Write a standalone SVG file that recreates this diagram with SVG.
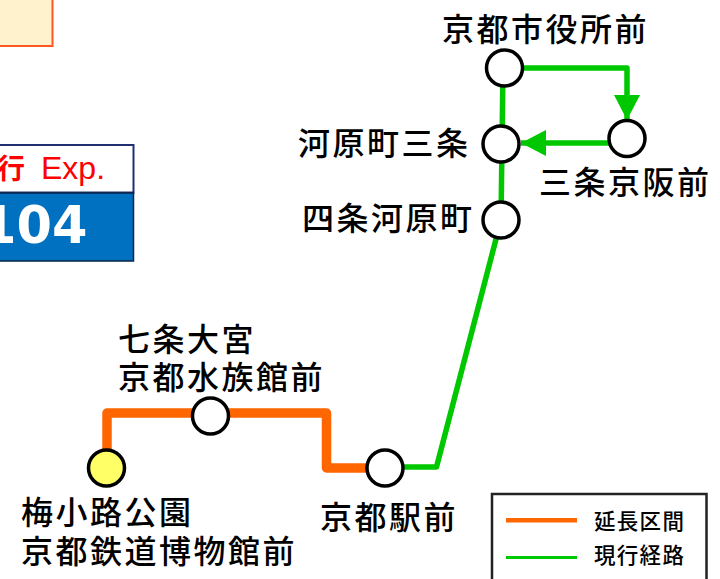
<svg xmlns="http://www.w3.org/2000/svg" width="720" height="579" viewBox="0 0 720 579">
<style>
text{font-family:"Noto Sans CJK JP","Liberation Sans",sans-serif;fill:#000}
.l{font-size:32px;letter-spacing:2.500px;font-weight:500}
.g{font-size:21.500px;letter-spacing:1.300px;font-weight:500}
.st{fill:#fff;stroke:#000;stroke-width:3.500}
.gr{fill:none;stroke:#00c800;stroke-width:5.500;stroke-linejoin:round}
.or{fill:none;stroke:#ff6600;stroke-width:9.500;stroke-linejoin:round}
</style>
<defs>
<marker id="ah" markerUnits="userSpaceOnUse" markerWidth="26" markerHeight="26" refX="25" refY="13" orient="auto"><path d="M0 0L25 13L0 26Z" fill="#00c800"/></marker>
</defs>
<g id="note-box"><rect x="-10" y="-10" width="62.500" height="56" fill="#fff2cc" stroke="#ff5722" stroke-width="2"/></g>
<g id="route-badge">
<rect x="-10" y="145" width="143.500" height="47.500" fill="#fff" stroke="#1f3070" stroke-width="2"/>
<rect x="-10" y="193" width="143.500" height="68" fill="#0070c0" stroke="#0b2545" stroke-width="1.500"/>
<text x="-3" y="179" font-size="28" font-weight="700" style="fill:#f00">行</text>
<text x="41" y="179" style="font-family:'Liberation Sans',sans-serif;fill:#f00;font-size:32px">Exp.</text>
<text x="-19" y="243" style="font-family:'DejaVu Sans',sans-serif;font-weight:700;font-size:51px;fill:#fff">104</text>
</g>
<g id="connectors">
<path class="gr" d="M505 68L627 68L627 120" marker-end="url(#ah)"/>
<path class="gr" d="M627 143L521 143" marker-end="url(#ah)"/>
<path class="gr" d="M503 68L501 220L436.500 467L385 467"/>
<path class="or" d="M107 468L107 413L326.500 413L326.500 468L385 468"/>
</g>
<g id="st-shiyakusho"><circle class="st" cx="504.500" cy="68" r="18"/><text class="l" x="442" y="41">京都市役所前</text></g>
<g id="st-kawaramachi-sanjo"><circle class="st" cx="501" cy="144" r="18"/><text class="l" x="298" y="155">河原町三条</text></g>
<g id="st-sanjo-keihan"><circle class="st" cx="627" cy="138.500" r="18"/><text class="l" x="539" y="194">三条京阪前</text></g>
<g id="st-shijo"><circle class="st" cx="501" cy="220" r="18"/><text class="l" x="302" y="230">四条河原町</text></g>
<g id="st-shichijo"><circle class="st" cx="210.500" cy="416" r="18"/><text class="l" x="118" y="351">七条大宮</text><text class="l" x="118" y="389">京都水族館前</text></g>
<g id="st-umekoji"><circle cx="106.500" cy="468" r="18" fill="#ffff66" stroke="#000" stroke-width="3.500"/><text class="l" x="21" y="524">梅小路公園</text><text class="l" x="21" y="563">京都鉄道博物館前</text></g>
<g id="st-kyoto"><circle class="st" cx="385" cy="468" r="18"/><text class="l" x="320" y="529">京都駅前</text></g>
<g id="legend">
<rect x="492" y="494" width="214.500" height="100" fill="#fff" stroke="#222" stroke-width="2.500"/>
<rect x="506" y="518" width="71" height="4.500" fill="#ff6600"/>
<rect x="506" y="556" width="71" height="3" fill="#00c800"/>
<text class="g" x="594" y="528.500">延長区間</text>
<text class="g" x="594" y="563">現行経路</text>
</g>
</svg>
